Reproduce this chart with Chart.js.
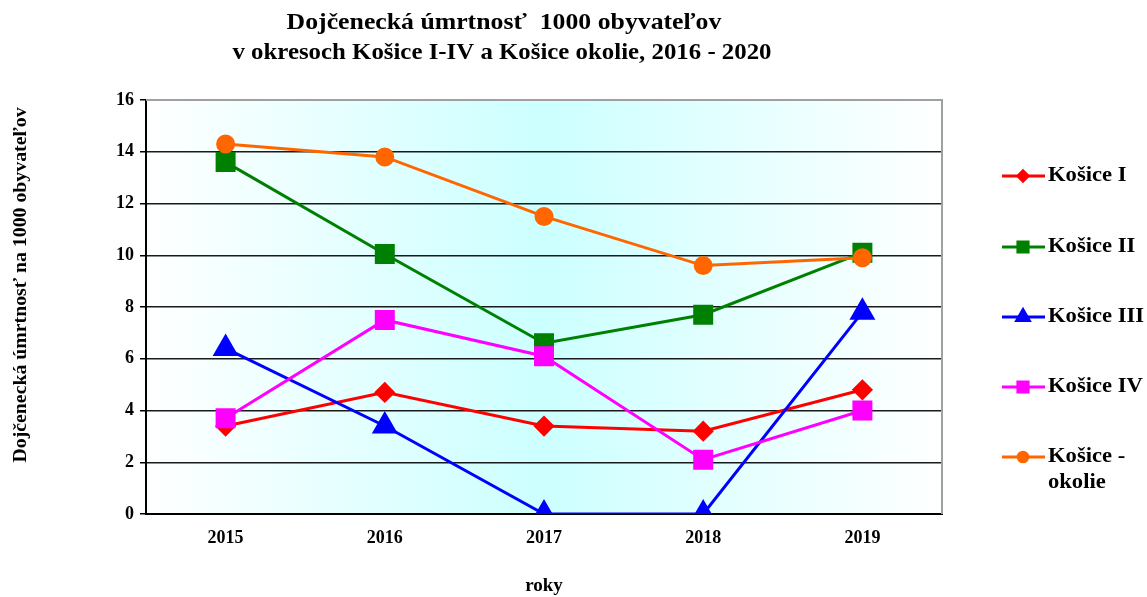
<!DOCTYPE html>
<html>
<head>
<meta charset="utf-8">
<script src="https://cdn.jsdelivr.net/npm/chart.js@4.4.1/dist/chart.umd.min.js"></script>
<style>
  html, body { margin: 0; padding: 0; background: #fff; }
  #wrap { width: 1147px; height: 597px; }
</style>
</head>
<body>
<div id="wrap"><canvas id="chart" width="1147" height="597"></canvas></div>
<script>
// ---- data ----
const years = ['2015', '2016', '2017', '2018', '2019'];
const kosiceI = [3.4, 4.7, 3.4, 3.2, 4.8];
const kosiceII = [13.6, 10.05, 6.6, 7.7, 10.1];
const kosiceIII = [6.4, 3.4, 0, 0, 7.8];
const kosiceIV = [3.7, 7.5, 6.1, 2.1, 4.0];
const kosiceOkolie = [14.3, 13.8, 11.5, 9.6, 9.9];
const yTicks = [0, 2, 4, 6, 8, 10, 12, 14, 16];

const titleLines = ['Dojčenecká úmrtnosť  1000 obyvateľov', 'v okresoch Košice I-IV a Košice okolie, 2016 - 2020'];
const yTitle = 'Dojčenecká úmrtnosť na 1000 obyvateľov';
const xTitle = 'roky';

const serif = '"Liberation Serif", "Times New Roman", serif';

// ---- series ----
function series(label, data, color, style, radius, order) {
  return {
    label, data, order,
    borderColor: color,
    backgroundColor: color,
    pointBackgroundColor: color,
    pointBorderColor: color,
    pointStyle: style,
    pointRadius: radius,
    pointHoverRadius: radius,
    borderWidth: 3,
    tension: 0,
    legendRadius: radius * 0.6,
    legendLines: label.split('\n')
  };
}

const datasets = [
  series('Košice I', kosiceI, '#ff0000', 'rectRot', 8.5, 5),
  series('Košice II', kosiceII, '#008000', 'rect', 12, 4),
  series('Košice III', kosiceIII, '#0000ff', 'triangle', 12, 3),
  series('Košice IV', kosiceIV, '#ff00ff', 'rect', 12, 2),
  series('Košice -\nokolie', kosiceOkolie, '#ff6600', 'circle', 8, 1)
];

// text stretched a bit horizontally, like the original
function stretchedText(ctx, text, x, y, sx) {
  ctx.save();
  ctx.translate(x, y);
  ctx.scale(sx, 1);
  ctx.fillText(text, 0, 0);
  ctx.restore();
}

// ---- custom drawing: background, frame, titles, legend ----
const decor = {
  id: 'decor',
  beforeDraw(chart) {
    const { ctx, chartArea: a } = chart;
    const g = ctx.createLinearGradient(a.left, 0, a.right, 0);
    g.addColorStop(0, '#ffffff');
    g.addColorStop(0.5, '#ccffff');
    g.addColorStop(1, '#ffffff');
    ctx.save();
    ctx.fillStyle = g;
    ctx.fillRect(a.left, a.top, a.right - a.left, a.bottom - a.top);
    ctx.restore();
  },
  afterDraw(chart) {
    const { ctx, chartArea: a } = chart;
    ctx.save();
    // gray frame top/right
    ctx.strokeStyle = '#a0a0a0';
    ctx.lineWidth = 2;
    ctx.beginPath();
    ctx.moveTo(a.left, a.top);
    ctx.lineTo(a.right, a.top);
    ctx.lineTo(a.right, a.bottom);
    ctx.stroke();

    // title
    ctx.fillStyle = '#000';
    ctx.font = 'bold 23px ' + serif;
    ctx.textAlign = 'center';
    ctx.textBaseline = 'middle';
    stretchedText(ctx, titleLines[0], 504, 23, 1.12);
    stretchedText(ctx, titleLines[1], 502, 53, 1.08);

    // y axis title
    ctx.save();
    ctx.translate(21, 285);
    ctx.rotate(-Math.PI / 2);
    ctx.font = 'bold 18px ' + serif;
    stretchedText(ctx, yTitle, 0, 0, 1.1);
    ctx.restore();

    // legend
    ctx.textAlign = 'left';
    ctx.font = 'bold 20px ' + serif;
    const ys = [176, 247, 317, 387, 457];
    chart.data.datasets.forEach((ds, i) => {
      const y = ys[i];
      ctx.strokeStyle = ds.borderColor;
      ctx.lineWidth = 3;
      ctx.beginPath();
      ctx.moveTo(1002, y);
      ctx.lineTo(1045, y);
      ctx.stroke();
      ctx.fillStyle = ds.borderColor;
      Chart.helpers.drawPoint(ctx, { pointStyle: ds.pointStyle, radius: ds.legendRadius, rotation: 0, borderWidth: 1 }, 1023, y);
      ctx.fillStyle = '#000';
      ds.legendLines.forEach((t, k) => stretchedText(ctx, t, 1048, y + k * 26, 1.13));
    });
    ctx.restore();
  }
};

new Chart(document.getElementById('chart'), {
  type: 'line',
  data: { labels: years, datasets },
  options: {
    responsive: false,
    animation: false,
    layout: { padding: { top: 100, right: 205, left: 0, bottom: 0 } },
    plugins: {
      legend: { display: false },
      title: { display: false },
      tooltip: { enabled: false }
    },
    scales: {
      x: {
        offset: true,
        grid: { display: false },
        border: { display: true, color: '#000', width: 2 },
        ticks: { color: '#000', font: { family: serif, size: 18, weight: 'bold' }, padding: 6 },
        title: { display: true, text: xTitle, color: '#000', font: { family: serif, size: 19, weight: 'bold' }, padding: 0 },
        afterFit(scale) { scale.height = 83; }
      },
      y: {
        min: 0,
        max: 16,
        afterBuildTicks(scale) { scale.ticks = yTicks.map(v => ({ value: v })); },
        grid: {
          color: c => (c.tick && c.tick.value === 16 ? '#a0a0a0' : '#1a1a1a'),
          lineWidth: 1.5,
          tickColor: '#000',
          tickLength: 6
        },
        border: { display: true, color: '#000', width: 2 },
        ticks: { color: '#000', font: { family: serif, size: 18, weight: 'bold' }, padding: 6 },
        afterFit(scale) { scale.width = 146; }
      }
    }
  },
  plugins: [decor]
});
</script>
</body>
</html>
